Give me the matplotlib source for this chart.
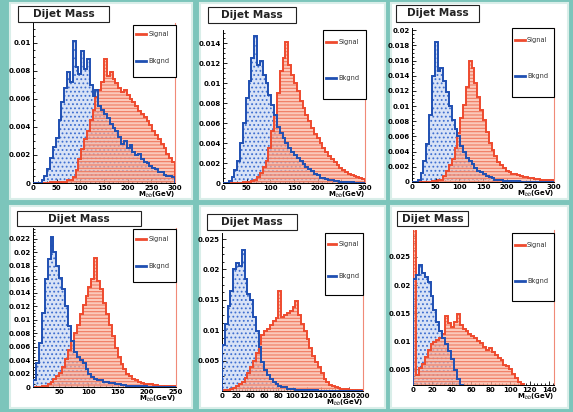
import matplotlib
matplotlib.use("Agg")
import matplotlib.pyplot as plt
from matplotlib.patches import Rectangle
from matplotlib.lines import Line2D
from matplotlib.ticker import MultipleLocator, AutoMinorLocator, FuncFormatter

# ---------------- data (bin contents) ----------------
# panel 1 : 0-300 GeV, 6 GeV bins
p1_edges_range = (0, 300, 6)
p1_bkg = [0, 0, 0, 0.0002, 0.0005, 0.0010, 0.0018, 0.0026, 0.0032, 0.0045,
          0.0058, 0.0068, 0.0079, 0.0072, 0.0101, 0.0083, 0.0078, 0.0094, 0.0081, 0.0088,
          0.0070, 0.0062, 0.0066, 0.0055, 0.0052, 0.0049, 0.0046, 0.0042, 0.0039, 0.0037,
          0.0033, 0.0028, 0.0030, 0.0025, 0.0027, 0.0022, 0.0020, 0.0021, 0.0017, 0.0015,
          0.0014, 0.0012, 0.0011, 0.0010, 0.0008, 0.0008, 0.0006, 0.0005, 0.0005, 0.0004]
p1_sig = [0, 0, 0, 0, 0, 0, 0.0001, 0.0001, 0.0001, 0.0001,
          0.0001, 0.0001, 0.0002, 0.0002, 0.0004, 0.0009, 0.0017, 0.0024, 0.0031, 0.0037,
          0.0045, 0.0052, 0.0061, 0.0066, 0.0072, 0.0088, 0.0076, 0.0079, 0.0074, 0.0071,
          0.0068, 0.0065, 0.0066, 0.0063, 0.0060, 0.0058, 0.0055, 0.0051, 0.0049, 0.0047,
          0.0044, 0.0041, 0.0037, 0.0034, 0.0031, 0.0028, 0.0025, 0.0021, 0.0018, 0.0015]

# panel 2 : 0-300 GeV, 6 GeV bins
p2_edges_range = (0, 300, 6)
p2_bkg = [0, 0, 0.0002, 0.0006, 0.0013, 0.0022, 0.0040, 0.0060, 0.0085, 0.0102,
          0.0125, 0.0147, 0.0118, 0.0122, 0.0108, 0.0100, 0.0088, 0.0078, 0.0068, 0.0056,
          0.0050, 0.0045, 0.0040, 0.0035, 0.0031, 0.0028, 0.0025, 0.0022, 0.0019, 0.0016,
          0.0014, 0.0012, 0.0009, 0.0008, 0.0005, 0.0005, 0.0004, 0.0003, 0.0003, 0.0002,
          0.0002, 0.0001, 0.0001, 0.0001, 0.0001, 0.0001, 0, 0, 0, 0]
p2_sig = [0, 0, 0, 0, 0, 0, 0, 0.0001, 0.0001, 0.0001,
          0.0002, 0.0003, 0.0006, 0.0010, 0.0016, 0.0022, 0.0035, 0.0052, 0.0068, 0.0090,
          0.0112, 0.0125, 0.0141, 0.0118, 0.0108, 0.0100, 0.0092, 0.0082, 0.0075, 0.0068,
          0.0062, 0.0055, 0.0049, 0.0045, 0.0040, 0.0035, 0.0031, 0.0027, 0.0024, 0.0021,
          0.0018, 0.0015, 0.0013, 0.0011, 0.0009, 0.0008, 0.0007, 0.0006, 0.0005, 0.0004]

# panel 3 : 0-300 GeV, 6 GeV bins
p3_edges_range = (0, 300, 6)
p3_bkg = [0, 0, 0.0003, 0.0012, 0.0028, 0.0050, 0.0088, 0.0140, 0.0185, 0.0146,
          0.0150, 0.0133, 0.0118, 0.0100, 0.0082, 0.0070, 0.0060, 0.0048, 0.0040, 0.0032,
          0.0028, 0.0024, 0.0018, 0.0015, 0.0013, 0.0011, 0.0008, 0.0006, 0.0005, 0.0003,
          0.0002, 0.0002, 0.0001, 0.0001, 0.0001, 0.0001, 0.0001, 0.0001, 0, 0,
          0, 0, 0, 0, 0, 0, 0, 0, 0, 0]
p3_sig = [0, 0, 0, 0, 0, 0, 0, 0.0001, 0.0001, 0.0002,
          0.0003, 0.0008, 0.0014, 0.0022, 0.0030, 0.0045, 0.0065, 0.0085, 0.0102, 0.0125,
          0.0160, 0.0150, 0.0130, 0.0112, 0.0095, 0.0082, 0.0066, 0.0052, 0.0042, 0.0034,
          0.0027, 0.0022, 0.0018, 0.0015, 0.0013, 0.0011, 0.0010, 0.0009, 0.0008, 0.0007,
          0.0006, 0.0005, 0.0005, 0.0004, 0.0004, 0.0003, 0.0003, 0.0003, 0.0002, 0.0002]

# panel 4 : 0-250 GeV, 5 GeV bins
p4_edges_range = (0, 250, 5)
p4_bkg = [0, 0.0010, 0.0035, 0.0065, 0.0110, 0.0160, 0.0190, 0.0222, 0.0200, 0.0180,
          0.0162, 0.0145, 0.0120, 0.0090, 0.0068, 0.0052, 0.0045, 0.0040, 0.0035, 0.0026,
          0.0020, 0.0015, 0.0012, 0.0011, 0.0010, 0.0008, 0.0008, 0.0006, 0.0006, 0.0004,
          0.0004, 0.0003, 0.0003, 0.0002, 0.0001, 0.0001, 0.0001, 0.0001, 0.0001, 0.0001,
          0, 0, 0, 0, 0, 0, 0, 0, 0, 0]
p4_sig = [0, 0, 0, 0, 0.0001, 0.0002, 0.0004, 0.0007, 0.0012, 0.0016,
          0.0021, 0.0030, 0.0042, 0.0055, 0.0068, 0.0080, 0.0092, 0.0108, 0.0122, 0.0135,
          0.0148, 0.0160, 0.0192, 0.0158, 0.0145, 0.0125, 0.0108, 0.0092, 0.0076, 0.0058,
          0.0045, 0.0034, 0.0026, 0.0020, 0.0016, 0.0012, 0.0010, 0.0008, 0.0006, 0.0005,
          0.0004, 0.0004, 0.0003, 0.0003, 0.0002, 0.0002, 0.0002, 0.0001, 0.0001, 0.0001]

# panel 5 : 0-200 GeV, 4 GeV bins
p5_edges_range = (0, 200, 4)
p5_bkg = [0.0075, 0.0110, 0.0140, 0.0165, 0.0200, 0.0210, 0.0205, 0.0232, 0.0185, 0.0160,
          0.0150, 0.0122, 0.0098, 0.0072, 0.0048, 0.0034, 0.0026, 0.0020, 0.0015, 0.0012,
          0.0009, 0.0007, 0.0006, 0.0004, 0.0003, 0.0003, 0.0002, 0.0002, 0.0001, 0.0001,
          0.0001, 0.0001, 0.0001, 0.0001, 0, 0, 0, 0, 0, 0,
          0, 0, 0, 0, 0, 0, 0, 0, 0, 0]
p5_sig = [0.0001, 0.0001, 0.0002, 0.0003, 0.0005, 0.0008, 0.0011, 0.0015, 0.0022, 0.0030,
          0.0040, 0.0050, 0.0062, 0.0078, 0.0092, 0.0098, 0.0102, 0.0108, 0.0115, 0.0120,
          0.0165, 0.0122, 0.0125, 0.0128, 0.0132, 0.0138, 0.0148, 0.0125, 0.0110, 0.0098,
          0.0085, 0.0070, 0.0058, 0.0048, 0.0040, 0.0030, 0.0020, 0.0014, 0.0010, 0.0008,
          0.0006, 0.0005, 0.0004, 0.0003, 0.0003, 0.0002, 0.0002, 0.0001, 0.0001, 0.0001]

# panel 6 : 0-144 GeV, 3 GeV bins
p6_edges_range = (0, 144, 3)
p6_bkg = [0.0210, 0.0218, 0.0235, 0.0222, 0.0215, 0.0205, 0.0180, 0.0155, 0.0135, 0.0118,
          0.0105, 0.0095, 0.0082, 0.0068, 0.0048, 0.0032, 0.0022, 0.0016, 0.0012, 0.0010,
          0.0008, 0.0006, 0.0005, 0.0004, 0.0003, 0.0003, 0.0002, 0.0002, 0.0001, 0.0001,
          0.0001, 0.0001, 0, 0, 0, 0, 0, 0, 0, 0,
          0, 0, 0, 0, 0, 0, 0, 0]
p6_sig = [0.0320, 0.0040, 0.0052, 0.0060, 0.0072, 0.0085, 0.0095, 0.0098, 0.0102, 0.0105,
          0.0112, 0.0145, 0.0132, 0.0125, 0.0135, 0.0148, 0.0128, 0.0122, 0.0118, 0.0112,
          0.0110, 0.0105, 0.0100, 0.0096, 0.0090, 0.0085, 0.0088, 0.0080, 0.0075, 0.0070,
          0.0066, 0.0058, 0.0055, 0.0050, 0.0042, 0.0035, 0.0028, 0.0024, 0.0021, 0.0018,
          0.0015, 0.0012, 0.0010, 0.0008, 0.0006, 0.0005, 0.0004, 0.0003]

title_text = "Dijet Mass"
legend_labels = ["Signal", "Bkgnd"]
xlabel_text = "M$_{bb}$(GeV)"

# ---------------- layout (pixels of a 573x412 picture) ----------------
W, H = 573, 412
TEAL = "#7cc5bb"
RED = "#ee4a2e"
BLUE = "#1f4fb2"

panels = [
    dict(bkg=p1_bkg, sig=p1_sig, rng=p1_edges_range, panel=(10, 3, 192, 199),
         axes=(33, 23, 175, 183), title=(18, 6, 109, 22), leg=(133, 25, 176, 77),
         xlim=(0, 300), ylim=(0, 0.0114), xstep=50, ystep=0.002, zero=True),
    dict(bkg=p2_bkg, sig=p2_sig, rng=p2_edges_range, panel=(200, 3, 385, 199),
         axes=(223, 30, 365, 183), title=(208, 7, 296, 23), leg=(323, 30, 366, 99),
         xlim=(0, 300), ylim=(0, 0.0153), xstep=50, ystep=0.002, zero=True),
    dict(bkg=p3_bkg, sig=p3_sig, rng=p3_edges_range, panel=(391, 3, 568, 199),
         axes=(412, 28, 554, 182), title=(396, 5, 479, 22), leg=(512, 28, 554, 97),
         xlim=(0, 300), ylim=(0, 0.0203), xstep=50, ystep=0.002, zero=True),
    dict(bkg=p4_bkg, sig=p4_sig, rng=p4_edges_range, panel=(10, 206, 192, 408),
         axes=(33, 228, 176, 387), title=(17, 211, 141, 226), leg=(133, 229, 176, 282),
         xlim=(5, 250), ylim=(0, 0.0236), xstep=50, ystep=0.002, zero=True),
    dict(bkg=p5_bkg, sig=p5_sig, rng=p5_edges_range, panel=(200, 206, 385, 408),
         axes=(222, 233, 363, 391), title=(207, 214, 297, 230), leg=(325, 233, 363, 295),
         xlim=(0, 200), ylim=(0, 0.026), xstep=20, ystep=0.005, zero=False),
    dict(bkg=p6_bkg, sig=p6_sig, rng=p6_edges_range, panel=(391, 206, 568, 408),
         axes=(413, 230, 554, 385), title=(397, 211, 468, 226), leg=(512, 233, 554, 301),
         xlim=(0, 145), ylim=(0.0022, 0.0298), xstep=20, ystep=0.005, zero=False),
]

plt.rcParams['hatch.linewidth'] = 0.8


def frac_box(box):
    x0, y0, x1, y1 = box
    return [x0 / W, 1 - y1 / H, (x1 - x0) / W, (y1 - y0) / H]


def tick_label(v, pos, zero):
    if abs(v) < 1e-12:
        return "0" if zero else ""
    return "%g" % round(v, 6)


def draw_panel(fig, p):
    # white card with a pale rim
    l, b, w, h = frac_box(p['panel'])
    fig.add_artist(Rectangle((l, b), w, h, transform=fig.transFigure,
                             facecolor="white", edgecolor="#d9eee9", lw=1.5, zorder=0))

    ax = fig.add_axes(frac_box(p['axes']))
    lo, hi, step = p['rng']
    edges = list(range(lo, hi + 1, step))

    # fills first, then outlines
    ax.stairs(p['bkg'], edges, fill=True, facecolor="#d8e2f6", edgecolor="#3f6fd0",
              hatch="....", lw=0, zorder=1)
    ax.stairs(p['sig'], edges, fill=True, facecolor=(0.98, 0.70, 0.62, 0.7),
              edgecolor="#f07a60", hatch="-----", lw=0, zorder=2)
    ax.stairs(p['sig'], edges, color=RED, lw=1.4, zorder=3)
    ax.stairs(p['bkg'], edges, color=BLUE, lw=1.4, zorder=4)

    ax.set_xlim(*p['xlim'])
    ax.set_ylim(*p['ylim'])
    ax.xaxis.set_major_locator(MultipleLocator(p['xstep']))
    ax.yaxis.set_major_locator(MultipleLocator(p['ystep']))
    ax.xaxis.set_minor_locator(AutoMinorLocator(5))
    ax.yaxis.set_minor_locator(AutoMinorLocator(4))
    zero = p['zero']
    ax.yaxis.set_major_formatter(FuncFormatter(lambda v, pos: tick_label(v, pos, zero)))
    ax.xaxis.set_major_formatter(FuncFormatter(lambda v, pos: "%g" % v))
    ax.tick_params(which='both', direction='in', labelsize=5, pad=1.5, width=0.6)
    ax.tick_params(which='major', length=3)
    ax.tick_params(which='minor', length=1.5)
    for lab in ax.get_xticklabels() + ax.get_yticklabels():
        lab.set_fontweight('bold')

    ax.spines['top'].set_visible(False)
    ax.spines['right'].set_color("#f08a78")
    ax.spines['left'].set_linewidth(0.7)
    ax.spines['bottom'].set_linewidth(0.7)

    ax.text(1.0, -0.045, xlabel_text, transform=ax.transAxes, ha='right', va='top',
            fontsize=5, fontweight='bold')

    # title box
    l, b, w, h = frac_box(p['title'])
    fig.add_artist(Rectangle((l, b), w, h, transform=fig.transFigure,
                             facecolor="white", edgecolor="#222222", lw=0.8, zorder=5))
    fig.text(l + w / 2, b + h / 2, title_text, ha='center', va='center',
             fontsize=7.6, fontweight='bold', color="#222222", zorder=6)

    # legend box
    l, b, w, h = frac_box(p['leg'])
    fig.add_artist(Rectangle((l, b), w, h, transform=fig.transFigure,
                             facecolor="white", edgecolor="black", lw=0.8, zorder=5))
    for frac, label, col in [(0.82, legend_labels[0], RED), (0.3, legend_labels[1], BLUE)]:
        yy = b + h * frac
        fig.add_artist(Line2D([l + w * 0.07, l + w * 0.3], [yy, yy], color=col, lw=2,
                              transform=fig.transFigure, zorder=6))
        fig.text(l + w * 0.36, yy, label, ha='left', va='center', fontsize=4.8,
                 color="#333333", zorder=6)


fig = plt.figure(figsize=(5.73, 4.12), dpi=100)
fig.patch.set_facecolor(TEAL)
for p in panels:
    draw_panel(fig, p)

plt.savefig("out.png", dpi=100, facecolor=TEAL)
